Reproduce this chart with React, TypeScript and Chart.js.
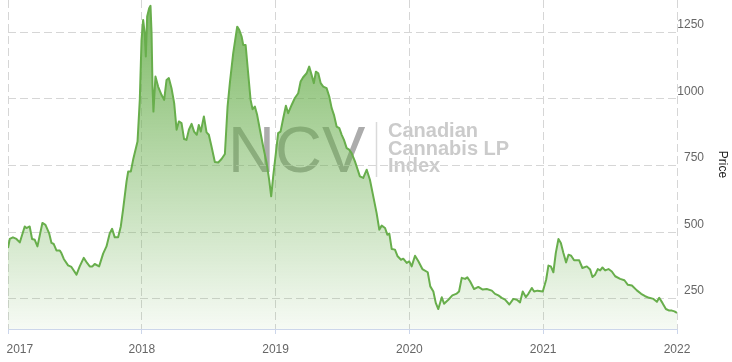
import React, { useEffect, useRef } from "react";
import { Chart, registerables } from "chart.js";

Chart.register(...registerables);

// Decimal-year dates of the index observations
const dates = [
  2017.0, 2017.013, 2017.037, 2017.063, 2017.088, 2017.125, 2017.138, 2017.162, 2017.18, 2017.2,
  2017.22, 2017.257, 2017.28, 2017.307, 2017.325, 2017.342, 2017.362, 2017.387, 2017.399, 2017.417,
  2017.449, 2017.474, 2017.512, 2017.536, 2017.566, 2017.591, 2017.611, 2017.631, 2017.648, 2017.681,
  2017.711, 2017.736, 2017.761, 2017.778, 2017.798, 2017.823, 2017.843, 2017.86, 2017.886, 2017.898,
  2017.918, 2017.935, 2017.968, 2017.985, 2017.998, 2018.01, 2018.022, 2018.03, 2018.04, 2018.055,
  2018.065, 2018.073, 2018.08, 2018.087, 2018.102, 2018.122, 2018.147, 2018.167, 2018.185, 2018.202,
  2018.222, 2018.242, 2018.26, 2018.277, 2018.297, 2018.316, 2018.334, 2018.352, 2018.372, 2018.391,
  2018.411, 2018.426, 2018.441, 2018.464, 2018.484, 2018.501, 2018.521, 2018.546, 2018.571, 2018.596,
  2018.621, 2018.641, 2018.658, 2018.683, 2018.713, 2018.728, 2018.746, 2018.758, 2018.776, 2018.795,
  2018.813, 2018.828, 2018.845, 2018.862, 2018.883, 2018.907, 2018.933, 2018.952, 2018.967, 2018.982,
  2019.002, 2019.019, 2019.037, 2019.057, 2019.077, 2019.094, 2019.12, 2019.144, 2019.169, 2019.187,
  2019.206, 2019.232, 2019.251, 2019.269, 2019.286, 2019.301, 2019.319, 2019.337, 2019.356, 2019.381,
  2019.401, 2019.419, 2019.436, 2019.456, 2019.476, 2019.494, 2019.511, 2019.531, 2019.55, 2019.568,
  2019.593, 2019.63, 2019.655, 2019.681, 2019.705, 2019.73, 2019.755, 2019.775, 2019.793, 2019.818,
  2019.835, 2019.85, 2019.868, 2019.892, 2019.912, 2019.937, 2019.954, 2019.98, 2019.999, 2020.017,
  2020.042, 2020.067, 2020.097, 2020.137, 2020.156, 2020.179, 2020.197, 2020.216, 2020.242, 2020.259,
  2020.291, 2020.321, 2020.354, 2020.371, 2020.391, 2020.416, 2020.433, 2020.453, 2020.483, 2020.515,
  2020.548, 2020.578, 2020.616, 2020.64, 2020.665, 2020.69, 2020.715, 2020.747, 2020.777, 2020.803,
  2020.827, 2020.847, 2020.87, 2020.889, 2020.915, 2020.932, 2020.957, 2020.997, 2021.022, 2021.039,
  2021.057, 2021.076, 2021.094, 2021.114, 2021.132, 2021.151, 2021.171, 2021.189, 2021.209, 2021.231,
  2021.269, 2021.293, 2021.326, 2021.351, 2021.368, 2021.388, 2021.408, 2021.426, 2021.443, 2021.463,
  2021.488, 2021.513, 2021.538, 2021.575, 2021.607, 2021.633, 2021.663, 2021.7, 2021.732, 2021.762,
  2021.792, 2021.824, 2021.85, 2021.867, 2021.891, 2021.917, 2021.942, 2021.962, 2021.981, 2022.0,
];

// Index price at each date
const prices = [
  440, 474, 480, 474, 461, 521, 515, 521, 474, 471,
  446, 534, 527, 496, 459, 455, 431, 431, 421, 399,
  375, 369, 340, 371, 403, 384, 371, 371, 380, 371,
  419, 446, 496, 512, 480, 480, 521, 584, 690, 727,
  727, 771, 840, 996, 1221, 1296, 1246, 1159, 1309, 1340,
  1349, 1246, 1046, 952, 1084, 1046, 1015, 996, 1071, 1078,
  1040, 984, 884, 915, 909, 849, 846, 884, 906, 877,
  865, 902, 877, 934, 874, 865, 821, 763, 761, 774,
  793, 971, 1059, 1171, 1271, 1259, 1234, 1202, 1202, 1096,
  996, 961, 971, 940, 884, 821, 759, 696, 634, 709,
  796, 871, 877, 927, 974, 946, 977, 1003, 1021, 1065,
  1081, 1096, 1121, 1090, 1059, 1102, 1096, 1059, 1046, 1040,
  1009, 965, 940, 896, 890, 865, 846, 815, 809, 796,
  765, 709, 703, 734, 696, 634, 571, 509, 524, 515,
  490, 494, 436, 434, 409, 396, 400, 384, 390, 371,
  411, 390, 361, 349, 296, 277, 234, 211, 255, 231,
  246, 262, 269, 277, 328, 324, 330, 315, 286, 294,
  284, 286, 280, 268, 262, 253, 246, 228, 249, 246,
  236, 277, 256, 268, 290, 277, 280, 277, 321, 374,
  371, 349, 421, 474, 459, 421, 386, 415, 411, 394,
  394, 365, 371, 359, 331, 340, 361, 356, 367, 356,
  361, 352, 334, 324, 319, 302, 299, 281, 268, 259,
  253, 249, 238, 253, 234, 211, 205, 205, 202, 196,
];

const yearTicks = [2017, 2018, 2019, 2020, 2021, 2022];
const priceTicks = [250, 500, 750, 1000, 1250];
const priceMin = 136;
const priceMax = 1371;
const axisTitle = "Price";
const watermarkCode = "NCV";
const watermarkLines = ["Canadian", "Cannabis LP", "Index"];

const SANS = "'Liberation Sans', Arial, Helvetica, sans-serif";

const watermarkPlugin = {
  id: "watermark",
  beforeDraw(chart: any) {
    const ctx = chart.ctx;
    ctx.save();
    ctx.textAlign = "left";
    ctx.textBaseline = "alphabetic";
    ctx.font = `65px ${SANS}`;
    ctx.fillStyle = "#acacac";
    ctx.fillText(watermarkCode, 228, 172);
    ctx.strokeStyle = "#dadada";
    ctx.lineWidth = 1.5;
    ctx.beginPath();
    ctx.moveTo(376.5, 122);
    ctx.lineTo(376.5, 177);
    ctx.stroke();
    ctx.font = `bold 20px ${SANS}`;
    ctx.fillStyle = "#cbcbcb";
    watermarkLines.forEach((line, i) => {
      ctx.fillText(line, 388, 137 + i * 17.5);
    });
    ctx.restore();
  },
};

const axisLabelsPlugin = {
  id: "axisLabels",
  afterDraw(chart: any) {
    const ctx = chart.ctx;
    const area = chart.chartArea;
    ctx.save();
    ctx.font = `12px ${SANS}`;
    ctx.fillStyle = "#666666";
    ctx.textBaseline = "middle";

    const xs = chart.scales.x;
    ctx.textAlign = "left";
    const y = xs.top + 20.5;
    yearTicks.forEach((v) => {
      const label = String(v);
      const w = ctx.measureText(label).width;
      let x = xs.getPixelForValue(v) - w / 2;
      const minX = area.left - 1.5;
      if (x < minX) x = minX;
      ctx.fillText(label, x, y);
    });

    const ys = chart.scales.y;
    ctx.textAlign = "right";
    priceTicks.forEach((v) => {
      ctx.fillText(String(v), area.right + 27, ys.getPixelForValue(v) - 7.5);
    });
    ctx.restore();
  },
};

export default function App() {
  const canvasRef = useRef<HTMLCanvasElement | null>(null);

  useEffect(() => {
    const canvas = canvasRef.current;
    if (!canvas) return;
    const chart = new Chart(canvas, {
      type: "line",
      data: {
        datasets: [
          {
            label: axisTitle,
            data: dates.map((d, i) => ({ x: d, y: prices[i] })),
            borderColor: "#68ae4c",
            borderWidth: 2,
            pointRadius: 0,
            tension: 0,
            borderJoinStyle: "round",
            fill: "start",
            backgroundColor: (c: any) => {
              const area = c.chart.chartArea;
              if (!area) return "rgba(106,176,78,0.4)";
              const g = c.chart.ctx.createLinearGradient(0, area.top, 0, area.bottom);
              g.addColorStop(0, "rgba(104,174,76,0.88)");
              g.addColorStop(1, "rgba(104,174,76,0.06)");
              return g;
            },
          } as any,
        ],
      },
      options: {
        animation: false,
        responsive: false,
        maintainAspectRatio: false,
        layout: { padding: { left: 8, top: 0, right: 0, bottom: 0 } },
        plugins: {
          legend: { display: false },
          tooltip: { enabled: false },
        },
        scales: {
          x: {
            type: "linear",
            min: 2017,
            max: 2022,
            afterBuildTicks: (s: any) => {
              s.ticks = yearTicks.map((v) => ({ value: v }));
            },
            afterFit: (s: any) => {
              s.height = 33;
              s.paddingLeft = 0;
              s.paddingRight = 0;
            },
            ticks: { display: false },
            grid: {
              color: "#d6d6d6",
              lineWidth: 1,
              drawTicks: true,
              tickLength: 5,
              tickColor: "#ccd6eb",
              tickBorderDash: [],
            },
            border: { display: true, color: "#ccd6eb", width: 1, dash: [8, 4] },
          },
          y: {
            type: "linear",
            position: "right",
            min: priceMin,
            max: priceMax,
            afterBuildTicks: (s: any) => {
              s.ticks = priceTicks.map((v) => ({ value: v }));
            },
            afterFit: (s: any) => {
              s.width = 55;
              s.paddingTop = 0;
              s.paddingBottom = 0;
            },
            ticks: { display: false },
            grid: { color: "#d6d6d6", lineWidth: 1, drawTicks: false },
            border: { display: false, dash: [8, 4] },
            title: {
              display: true,
              text: axisTitle,
              color: "#222222",
              font: { family: SANS, size: 12 },
              padding: { top: 2, bottom: 0 },
            },
          },
        },
      } as any,
      plugins: [watermarkPlugin, axisLabelsPlugin],
    });
    return () => chart.destroy();
  }, []);

  return (
    <div style={{ position: "absolute", left: 0, top: 0, width: 732, height: 362, background: "#fff" }}>
      <canvas ref={canvasRef} width={732} height={362} style={{ display: "block", width: 732, height: 362 }} />
    </div>
  );
}
